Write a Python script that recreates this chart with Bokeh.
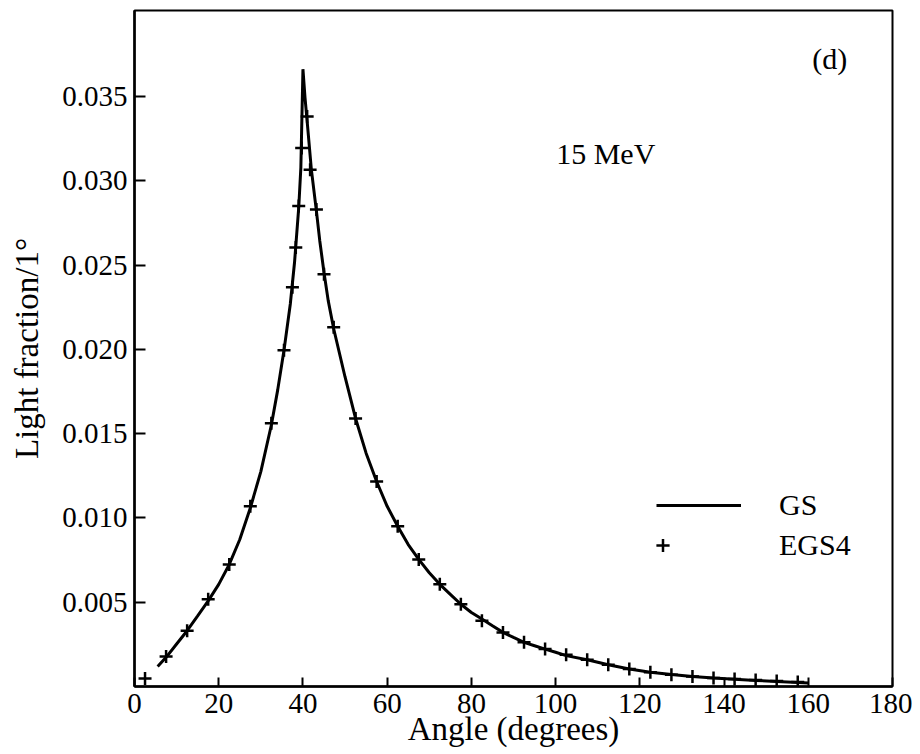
from bokeh.plotting import figure
from bokeh.models import (Range1d, FixedTicker, PrintfTickFormatter, Legend,
                          LegendItem, Label)
from bokeh.embed import file_html
from bokeh.resources import INLINE

# ---- data ----
gs_angle = [5.5, 7.5, 10, 12.5, 15, 17.5, 20, 22.5, 25, 27.5, 30, 32.5, 34, 35.5,
            37, 38, 39, 39.5, 40.0, 40.5, 41.0, 42.0, 43.2, 44, 45, 46, 47.3, 50,
            52.5, 55, 57.5, 60, 62.5, 65, 67.5, 70, 72.5, 75, 77.5, 80, 82.5, 85,
            87.5, 90, 92.5, 95, 97.5, 100, 102.5, 107.5, 112.5, 117.5, 122.5,
            127.5, 132.5, 137.5, 142.5, 147.5, 152.5, 157.5, 160]
gs_light = [0.00119, 0.00173, 0.00252, 0.00331, 0.00419, 0.00508, 0.00606, 0.00724,
            0.00872, 0.01059, 0.01275, 0.01551, 0.01758, 0.01994, 0.02269, 0.02515,
            0.02840, 0.03076, 0.03662, 0.03490, 0.03352, 0.03066, 0.02820, 0.02643,
            0.02456, 0.02289, 0.02122, 0.01836, 0.01590, 0.01384, 0.01216, 0.01069,
            0.00951, 0.00842, 0.00754, 0.00675, 0.00606, 0.00547, 0.00488, 0.00439,
            0.00400, 0.00360, 0.00321, 0.00291, 0.00262, 0.00242, 0.00222, 0.00203,
            0.00183, 0.00159, 0.00129, 0.00104, 0.00085, 0.00071, 0.00059, 0.00050,
            0.00043, 0.00036, 0.00030, 0.00024, 0.00021]

egs_angle = [2.5, 7.5, 12.5, 17.5, 22.5, 27.5, 32.5, 35.5, 37.5, 38.3, 39.0, 39.7,
             41.0, 41.7, 43.2, 45.0, 47.3, 52.5, 57.5, 62.5, 67.5, 72.5, 77.5, 82.5,
             87.5, 92.5, 97.5, 102.5, 107.5, 112.5, 117.5, 122.5, 127.5, 132.5,
             137.5, 142.5, 147.5, 152.5, 157.5]
egs_light = [0.00047, 0.00178, 0.00331, 0.00518, 0.00724, 0.01069, 0.01561, 0.01994,
             0.02368, 0.02604, 0.02850, 0.03194, 0.03381, 0.03066, 0.02830, 0.02446,
             0.02131, 0.01590, 0.01216, 0.00951, 0.00754, 0.00606, 0.00488, 0.00390,
             0.00321, 0.00262, 0.00222, 0.00188, 0.00159, 0.00129, 0.00104, 0.00085,
             0.00070, 0.00059, 0.00051, 0.00045, 0.00039, 0.00032, 0.00026]

x_ticks = [0, 20, 40, 60, 80, 100, 120, 140, 160, 180]
y_ticks = [0.005, 0.010, 0.015, 0.020, 0.025, 0.030, 0.035]
x_title = "Angle (degrees)"
y_title = "Light fraction/1°"

FONT = "Liberation Serif"

p = figure(width=912, height=754, x_range=Range1d(0, 180), y_range=Range1d(0, 0.0401),
           output_backend="svg", toolbar_location=None,
           min_border_left=134, min_border_right=20, min_border_top=10,
           min_border_bottom=68)
p.grid.visible = False
p.outline_line_color = "black"
p.outline_line_width = 2
p.background_fill_color = "white"
p.border_fill_color = "white"

for ax in (p.xaxis[0], p.yaxis[0]):
    ax.axis_line_color = "black"
    ax.axis_line_width = 2.5
    ax.major_tick_line_color = "black"
    ax.major_tick_line_width = 2
    ax.major_tick_out = 0
    ax.minor_tick_line_color = None
    ax.major_label_text_font = FONT
    ax.major_label_text_font_size = "29px"
    ax.major_label_text_color = "black"
    ax.axis_label_text_font = FONT
    ax.axis_label_text_font_size = "33px"
    ax.axis_label_text_font_style = "normal"
    ax.axis_label_text_color = "black"

p.xaxis.ticker = FixedTicker(ticks=x_ticks)
p.xaxis.major_tick_in = 9
p.xaxis.major_label_standoff = 7
p.xaxis.axis_label = x_title
p.xaxis.axis_label_standoff = -5

p.yaxis.ticker = FixedTicker(ticks=y_ticks)
p.yaxis.formatter = PrintfTickFormatter(format="%.3f")
p.yaxis.major_tick_in = 11
p.yaxis.major_label_standoff = 7
p.yaxis.axis_label = y_title
p.yaxis.axis_label_standoff = 14

gs_r = p.line(gs_angle, gs_light, line_color="black", line_width=3)
eg_r = p.scatter(egs_angle, egs_light, marker="cross", size=13,
                 line_color="black", line_width=2.5)

common = dict(padding=0, margin=0, border_line_alpha=0, background_fill_alpha=0,
              label_text_font=FONT, label_text_font_size="30px",
              label_text_color="black", glyph_height=34, label_height=34, spacing=0)
leg1 = Legend(items=[LegendItem(label="GS", renderers=[gs_r])], location=(522, 164),
              glyph_width=85, label_standoff=38, **common)
leg2 = Legend(items=[LegendItem(label="EGS4", renderers=[eg_r])], location=(512, 124),
              glyph_width=33, label_standoff=100, **common)
p.add_layout(leg1)
p.add_layout(leg2)

p.add_layout(Label(x=165.1, y=0.03723, text="(d)", text_align="center",
                   text_baseline="middle", text_font=FONT, text_font_size="30px",
                   text_color="black"))
p.add_layout(Label(x=111.9, y=0.0316, text="15 MeV", text_align="center",
                   text_baseline="middle", text_font=FONT, text_font_size="30px",
                   text_color="black"))

open("out.html", "w").write(file_html(p, INLINE))
